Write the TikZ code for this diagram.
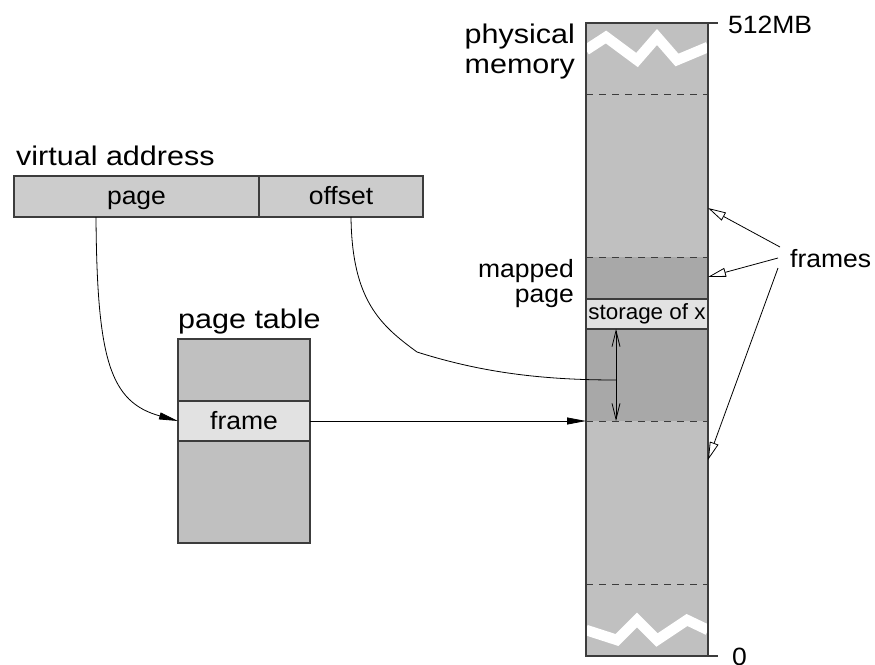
\documentclass[tikz,border=0pt]{standalone}
\usepackage{fontspec}
\setmainfont{Liberation Sans}
\usepackage{graphicx}
\usetikzlibrary{arrows.meta}
\definecolor{memlight}{RGB}{192,192,192}
\definecolor{memdark}{RGB}{168,168,168}
\definecolor{cellhi}{RGB}{226,226,226}
\definecolor{vagray}{RGB}{204,204,204}
\definecolor{edgegray}{RGB}{60,60,60}
\newcommand{\bigtxt}[1]{\fontsize{27}{32}\selectfont\scalebox{1.13}[1]{#1}}
\newcommand{\midtxt}[1]{\fontsize{25}{30}\selectfont\scalebox{1.06}[1]{#1}}
\newcommand{\smalltxt}[1]{\fontsize{22}{26}\selectfont\scalebox{1.02}[1]{#1}}

\begin{document}
\begin{tikzpicture}[x=1pt,y=-1pt,
  cell/.style={draw=edgegray, line width=1.2pt, inner sep=0pt, outer sep=0pt,
    text height=16pt, text depth=0pt},
  lbl/.style={inner sep=0pt},
  link/.style={line width=0.8pt},
  sep/.style={draw=edgegray, line width=1pt, dash pattern=on 7pt off 6pt},
  cut/.style={white, line width=10.5pt},
  solidtip/.style={-{Triangle[length=19pt,width=7pt]}},
  opentip/.style={-{Triangle[open,length=18pt,width=9pt]}},
  barbs/.style={{Straight Barb[length=16pt,width=8pt]}-{Straight Barb[length=16pt,width=8pt]}}]
\useasboundingbox (0,0) rectangle (875,664);

% virtual address
\node[lbl, anchor=base west] (valbl) at (16,165) {\bigtxt{virtual address}};
\node[cell, fill=vagray, minimum width=245pt, minimum height=41pt] (pagefld) at (136.5,196.5) {\midtxt{page}};
\node[cell, fill=vagray, minimum width=164pt, minimum height=41pt] (offset) at (341,196.5) {\midtxt{offset}};

% page table
\node[lbl, anchor=base west] (ptlbl) at (178,328) {\bigtxt{page table}};
\node[cell, fill=memlight, minimum width=132pt, minimum height=204pt] (ptab) at (244,441) {};
\node[cell, fill=cellhi, minimum width=132pt, minimum height=40pt] (frame) at (244,421) {\midtxt{frame}};

% physical memory
\node[cell, fill=memlight, minimum width=122pt, minimum height=633pt] (mem) at (647,339.5) {};
\fill[memdark] (586,257) rectangle (708,421);
\foreach \y in {94,257,421,584}
  \draw[sep] (mem.west |- 0,\y) -- (mem.east |- 0,\y);
\draw[cut] (586,50) -- (606,37) -- (637,60) -- (657,37) -- (677,60) -- (708,47);
\draw[cut] (586,630) -- (617,640) -- (637,620) -- (657,640) -- (687,620) -- (708,630);
\draw[edgegray, line width=1.2pt] (mem.north west) rectangle (mem.south east);
\draw[edgegray, line width=1.2pt] (mem.north east) -- ++(10,0);
\draw[edgegray, line width=1.2pt] (mem.south east) -- ++(10,0);
\node[cell, fill=cellhi, minimum width=122pt, minimum height=30pt, text height=10pt] (stor) at (647,314) {\smalltxt{storage of x}};

\node[lbl, anchor=base east] (physlbl) at (575,43) {\bigtxt{physical}};
\node[lbl, anchor=base east] (memlbl) at (575,73) {\bigtxt{memory}};
\node[lbl, anchor=base west] (toplbl) at (728,33) {\midtxt{512MB}};
\node[lbl, anchor=base west] (botlbl) at (732,665) {\midtxt{0}};
\node[lbl, anchor=base east] (maplbl) at (574,277) {\midtxt{mapped}};
\node[lbl, anchor=base east] (maplblb) at (574,302) {\midtxt{page}};
\node[lbl, anchor=base west] (frameslbl) at (790,267) {\midtxt{frames}};

% connectors
\coordinate (pgout) at ([xshift=-40.5pt]pagefld.south);
\coordinate (ofsout) at ([xshift=10pt]offset.south);
\coordinate (pgbase) at (mem.west |- frame.east);
\coordinate (ofsa) at ([xshift=-31pt]stor.south);
\coordinate (ofsb) at (ofsa |- pgbase);
\coordinate (ofsmid) at (ofsa |- 0,380);
\draw[link, solidtip] (pgout) .. controls (97,360) and (110,402) .. (frame.west);
\draw[link, solidtip] (frame.east) -- (pgbase);
\draw[link] (ofsout) .. controls (352,300) and (380,325) .. (417,352)
  .. controls (480,372) and (540,380) .. (ofsmid);
\draw[link, barbs] (ofsa) -- (ofsb);

\coordinate (fa) at (780,247);
\coordinate (fb) at (778,258);
\coordinate (fc) at (778,268);
\draw[link, opentip] (fa) -- (mem.east |- 0,208);
\draw[link, opentip] (fb) -- (mem.east |- 0,277);
\draw[link, opentip] (fc) -- (mem.east |- 0,460);
\end{tikzpicture}
\end{document}
